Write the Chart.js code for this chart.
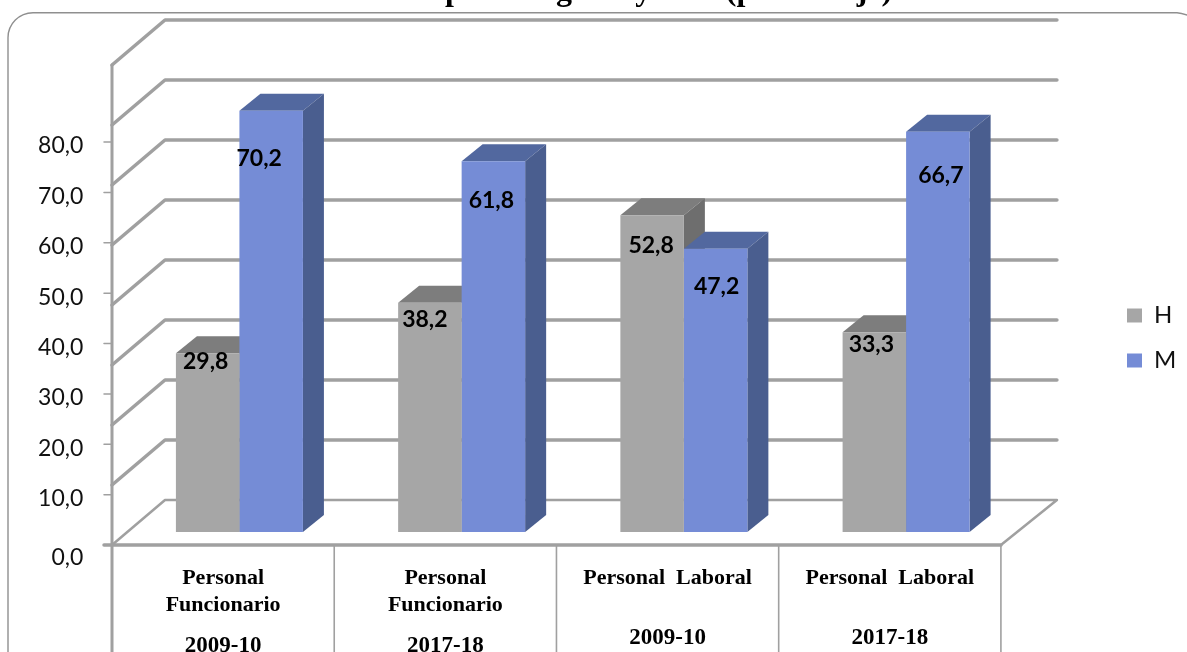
<!DOCTYPE html>
<html><head><meta charset="utf-8">
<style>html,body{margin:0;padding:0;background:#fff;width:1187px;height:652px;overflow:hidden}canvas{display:block}</style>
<script src="https://cdn.jsdelivr.net/npm/chart.js@4"></script>
</head><body><canvas id="c" width="1187" height="652"></canvas>
<script>
const categories = [["Personal","Funcionario"],["Personal","Funcionario"],["Personal  Laboral"],["Personal  Laboral"]];
const years = ["2009-10","2017-18","2009-10","2017-18"];
const seriesH = [29.8,38.2,52.8,33.3];
const seriesM = [70.2,61.8,47.2,66.7];
const tickValues = [0,10,20,30,40,50,60,70,80];
const titleText = "por categoría y sexo (porcentaje)";

const fmt = v => v.toFixed(1).replace('.',',');
const DX=21, DY=-17;
const GRID='#a0a0a0';
function poly(ctx,pts,fill){ctx.beginPath();pts.forEach((p,i)=>i?ctx.lineTo(p[0],p[1]):ctx.moveTo(p[0],p[1]));ctx.closePath();ctx.fillStyle=fill;ctx.fill();}
function line(ctx,pts,w,col){ctx.beginPath();pts.forEach((p,i)=>i?ctx.lineTo(p[0],p[1]):ctx.moveTo(p[0],p[1]));ctx.lineWidth=w;ctx.strokeStyle=col;ctx.lineCap='round';ctx.lineJoin='round';ctx.stroke();}
const shades=[{top:'#7d7d7d',side:'#6e6e6e'},{top:'#52689f',side:'#4a5e8f'}];
const nudgeX=[[-2,-5,-1,-3],[-12,-2,1,3]];

const chrome={id:'chrome',
 afterLayout(chart){const l=chart.legend;l.left=1106;l.right=1187;l.top=238;l.bottom=438;},
 beforeDraw(chart){const c=chart.ctx;c.save();
  c.fillStyle='#fff';c.fillRect(0,0,1187,652);
  c.beginPath();c.moveTo(8,700);c.lineTo(8,38);c.arcTo(8,12.7,33,12.7,25);c.lineTo(1177,12.7);c.quadraticCurveTo(1182,13,1190,16);
  c.lineWidth=1.4;c.strokeStyle='#8f8f8f';c.stroke();
  c.fillStyle='#000';c.font='bold 32px "Liberation Serif"';c.textAlign='left';c.textBaseline='alphabetic';
  c.fillText(titleText,445,0);
  c.restore();},
 beforeDatasetsDraw(chart){const c=chart.ctx,y=chart.scales.y,yT=chart.scales.yT,x=chart.scales.x;
  const step=x.getPixelForTick(1)-x.getPixelForTick(0);
  const left=x.getPixelForTick(0)-step/2-16.3;
  const right=x.getPixelForTick(3)+step/2-16.3;
  c.save();
  tickValues.forEach(v=>{const p=y.getPixelForValue(v);
    if(v===0) line(c,[[left,p+13],[left+53,p-32],[right+56,p-32],[right,p+13]],2.5,GRID);
    else line(c,[[left,p+13],[left+53,p-32],[right+56,p-32]],3.5,GRID);
  });
  line(c,[[left,y.getPixelForValue(80)+13],[left,700]],3,GRID);
  line(c,[[104,y.getPixelForValue(0)+13],[right,y.getPixelForValue(0)+13]],3.5,GRID);
  for(let i=1;i<=4;i++){const bx=left+step*i;line(c,[[bx,y.getPixelForValue(0)+13],[bx,700]],1.6,GRID);}
  tickValues.forEach(v=>{if(v>0){const p=yT.getPixelForValue(v);line(c,[[104,p],[112,p]],1.5,GRID);}});
  chart.data.datasets.forEach((d,di)=>{const s=shades[di];
    chart.getDatasetMeta(di).data.forEach(b=>{const l=b.x-b.width/2,r=b.x+b.width/2,t=b.y,bt=b.base;
      poly(c,[[l,t],[l+DX,t+DY],[r+DX,t+DY],[r,t]],s.top);
      poly(c,[[r,t],[r+DX,t+DY],[r+DX,bt+DY],[r,bt]],s.side);
    });});
  c.restore();},
 afterDatasetsDraw(chart){const c=chart.ctx,yT=chart.scales.yT;
  c.save();c.fillStyle='#000';c.font='bold 23px Lato';c.textAlign='center';c.textBaseline='middle';
  chart.data.datasets.forEach((d,di)=>{const m=chart.getDatasetMeta(di);
    d.data.forEach((v,i)=>{const lift=(di===1&&i===2)?21:33;
      c.fillText(fmt(v),m.data[i].x+nudgeX[di][i],yT.getPixelForValue(v)-lift);});});
  c.restore();}
};

new Chart(document.getElementById('c'),{
 type:'bar',
 data:{labels:categories,datasets:[
  {label:'H',data:seriesH,backgroundColor:'#a6a6a6',categoryPercentage:.5715,barPercentage:1,borderWidth:0,yAxisID:'y',xAxisID:'x'},
  {label:'M',data:seriesM,backgroundColor:'#758cd6',categoryPercentage:.5715,barPercentage:1,borderWidth:0,yAxisID:'y',xAxisID:'x'}]},
 options:{responsive:false,animation:false,
  layout:{padding:{top:52,right:89.5,left:0,bottom:0}},
  plugins:{title:{display:false},tooltip:{enabled:false},
   legend:{position:'right',labels:{boxWidth:15,boxHeight:14,padding:21,color:'#111',font:{family:'Lato',size:24}}}},
  scales:{
   y:{display:false,min:-4.667,max:80},
   yT:{position:'left',min:-2.978,max:97.87,grid:{display:false},border:{display:false},
    afterBuildTicks(s){s.ticks=tickValues.map(value=>({value}));},
    afterFit(s){s.width=128.3;},
    ticks:{autoSkip:false,padding:37,labelOffset:4,color:'#111',font:{family:'Lato',size:23,lineHeight:'18px'},
     callback:v=>v===0?['',fmt(v)]:fmt(v)}},
   x:{position:'bottom',offset:true,grid:{display:false,drawTicks:false},border:{display:false},
    afterFit(s){s.height=58;},
    ticks:{autoRotate:false,maxRotation:0,minRotation:0,autoSkip:false,padding:4.5,labelOffset:-16.3,color:'#000',
     font:{family:'Liberation Serif',weight:'bold',size:22,lineHeight:'27px'}}},
   x2:{position:'bottom',type:'category',labels:years,offset:true,grid:{display:false,drawTicks:false},border:{display:false},
    afterFit(s){s.height=34;},
    ticks:{maxRotation:0,minRotation:0,autoSkip:false,padding:16,labelOffset:-16.3,color:'#000',
     font:{family:'Liberation Serif',weight:'bold',size:23,lineHeight:'8px'},
     callback(v,i){return i<2?['',years[i]]:years[i];}}}
  }},
 plugins:[chrome]
});
</script></body></html>
